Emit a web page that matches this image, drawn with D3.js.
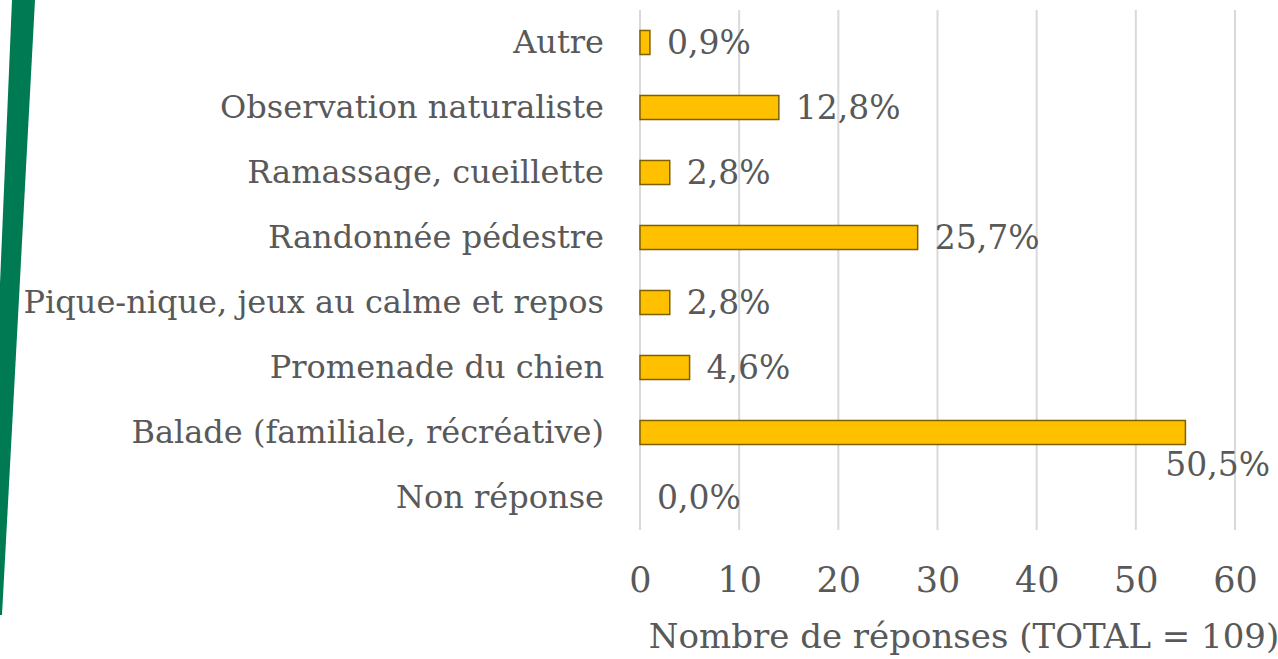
<!DOCTYPE html>
<html><head><meta charset="utf-8">
<script src="https://cdn.jsdelivr.net/npm/d3@7"></script>
<style>body{margin:0;background:#fff;}svg{display:block;}</style>
</head><body>
<svg id="c" width="1278" height="659"></svg>
<script>
const categories = ["Autre","Observation naturaliste","Ramassage, cueillette","Randonnée pédestre","Pique-nique, jeux au calme et repos","Promenade du chien","Balade (familiale, récréative)","Non réponse"];
const counts = [1,14,3,28,3,5,55,0];
const percentLabels = ["0,9%","12,8%","2,8%","25,7%","2,8%","4,6%","50,5%","0,0%"];
const xTicks = [0,10,20,30,40,50,60];
const axisTitle = "Nombre de réponses (TOTAL = 109)";

(function(){
const svg = d3.select("#c");
const font = '"DejaVu Serif",serif';
const textColor = "#595959";
const pL = 640, pR = 1235, pT = 10, pB = 530;

svg.append("path")
  .attr("d", "M12,0 L35,0 L2,615 L-14,615 Z")
  .attr("fill", "#007A53");

const x = d3.scaleLinear().domain([0,60]).range([pL,pR]);
const y = d3.scaleBand().domain(categories).range([pT,pB]).paddingInner(0.63).paddingOuter(0.315);

svg.append("g").selectAll("line").data(xTicks).join("line")
  .attr("x1", d=>x(d)).attr("x2", d=>x(d))
  .attr("y1", pT).attr("y2", pB)
  .attr("stroke", "#D9D9D9").attr("stroke-width", 2);

const xAxis = d3.axisBottom(x).tickValues(xTicks).tickSize(0).tickPadding(0).tickFormat(d3.format("d"));
const gx = svg.append("g").attr("transform", `translate(0,${pB+37})`).call(xAxis);
gx.attr("font-family", font).attr("font-size", 35);
gx.select(".domain").remove();
gx.selectAll("text").attr("fill", textColor);

const yAxis = d3.axisLeft(y).tickSize(0).tickPadding(36);
const gy = svg.append("g").attr("transform", `translate(${pL},0)`).call(yAxis);
gy.attr("font-family", font).attr("font-size", 32);
gy.select(".domain").remove();
gy.selectAll("text").attr("fill", textColor);

svg.append("g").selectAll("rect").data(counts).join("rect")
  .attr("x", x(0))
  .attr("y", (d,i)=>y(categories[i]))
  .attr("width", d=>x(d)-x(0))
  .attr("height", y.bandwidth())
  .attr("fill", d=>d>0?"#FFC000":"none")
  .attr("stroke", d=>d>0?"#7F6000":"none")
  .attr("stroke-width", 1.5);

svg.append("g").attr("font-family", font).attr("font-size", 33)
  .selectAll("text").data(counts).join("text")
  .attr("fill", textColor)
  .attr("dy", "0.35em")
  .attr("x", (d,i)=> d>50 ? 1270 : x(d)+17)
  .attr("text-anchor", d=> d>50 ? "end" : "start")
  .attr("y", (d,i)=>y(categories[i]) + y.bandwidth()/2 + (d>50 ? 32 : 0))
  .text((d,i)=>percentLabels[i]);

svg.append("text")
  .attr("x", 964).attr("y", 648)
  .attr("text-anchor", "middle")
  .attr("font-family", font).attr("font-size", 34).attr("fill", textColor)
  .text(axisTitle);
})();
</script>
</body></html>
